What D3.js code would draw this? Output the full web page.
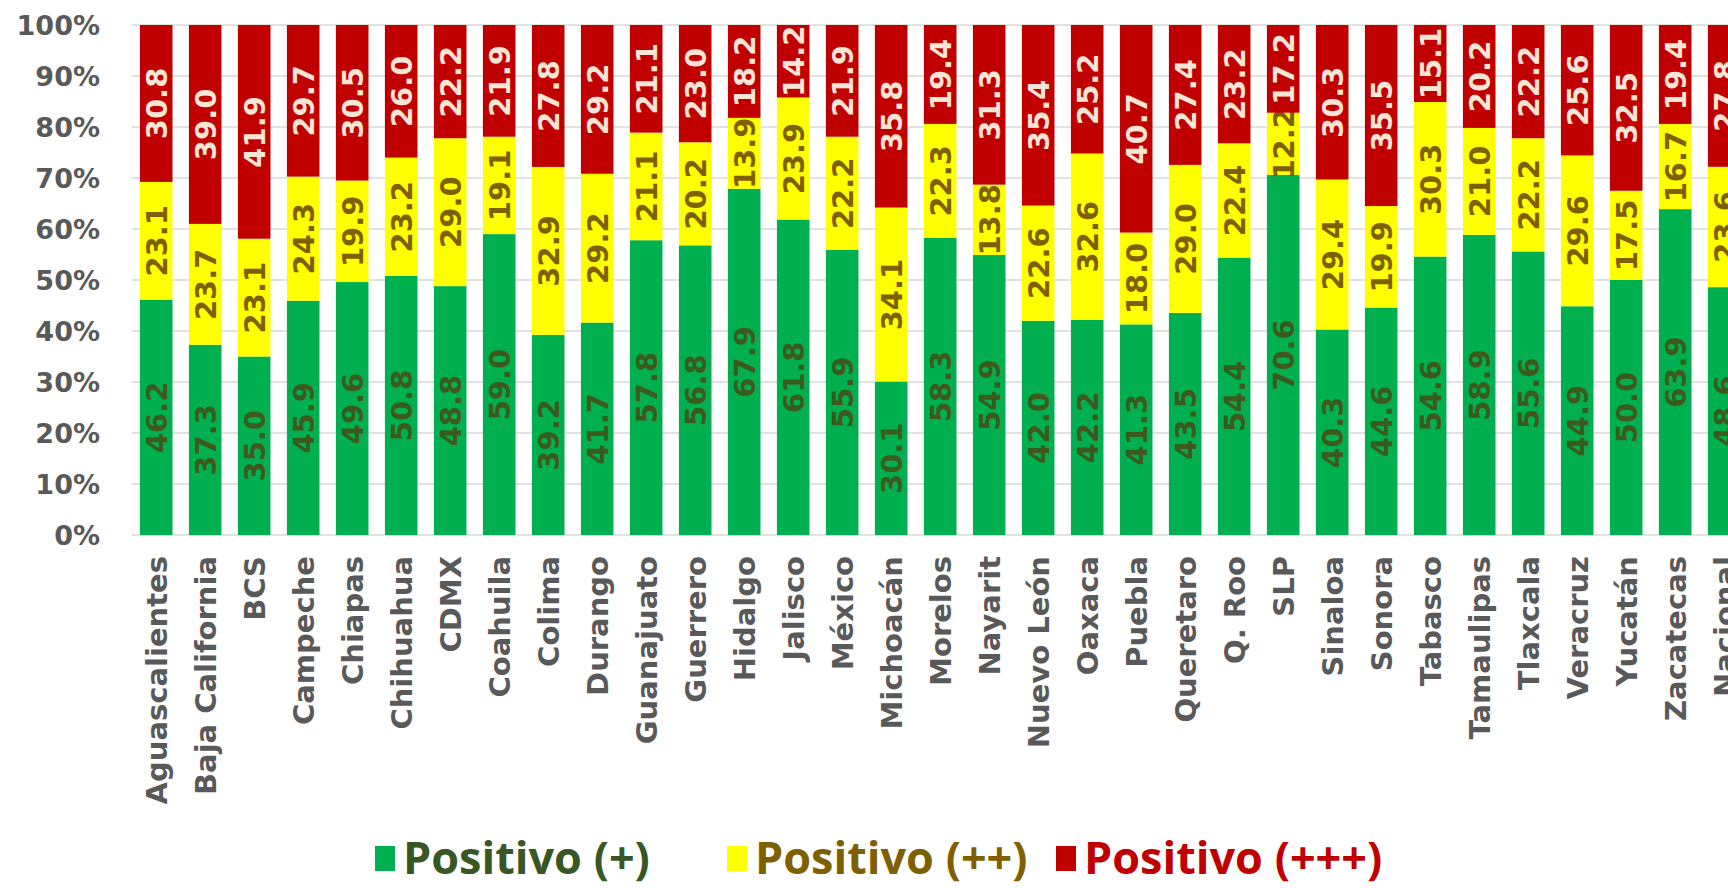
<!DOCTYPE html>
<meta charset="utf-8">
<style>
body { margin: 0; background: #fff; }
svg { display: block; }
.tick-label, .cat-label { font-family: "DejaVu Sans", sans-serif; font-weight: bold; fill: #595959; }
.val-label { font-family: "DejaVu Sans", sans-serif; font-weight: bold; }
.legend text { font-family: "Open Sans", sans-serif; font-weight: 700; }
</style>
<body>
<script src="https://cdnjs.cloudflare.com/ajax/libs/d3/7.8.5/d3.min.js"></script>
<script>

var estados = ["Aguascalientes", "Baja California", "BCS", "Campeche", "Chiapas", "Chihuahua",
    "CDMX", "Coahuila", "Colima", "Durango", "Guanajuato", "Guerrero", "Hidalgo", "Jalisco",
    "México", "Michoacán", "Morelos", "Nayarit", "Nuevo León", "Oaxaca", "Puebla", "Queretaro",
    "Q. Roo", "SLP", "Sinaloa", "Sonora", "Tabasco", "Tamaulipas", "Tlaxcala", "Veracruz",
    "Yucatán", "Zacatecas", "Nacional"];

var positivo1 = [46.2, 37.3, 35.0, 45.9, 49.6, 50.8, 48.8, 59.0, 39.2, 41.7, 57.8, 56.8, 67.9,
    61.8, 55.9, 30.1, 58.3, 54.9, 42.0, 42.2, 41.3, 43.5, 54.4, 70.6, 40.3, 44.6, 54.6, 58.9,
    55.6, 44.9, 50.0, 63.9, 48.6];
var positivo2 = [23.1, 23.7, 23.1, 24.3, 19.9, 23.2, 29.0, 19.1, 32.9, 29.2, 21.1, 20.2, 13.9,
    23.9, 22.2, 34.1, 22.3, 13.8, 22.6, 32.6, 18.0, 29.0, 22.4, 12.2, 29.4, 19.9, 30.3, 21.0,
    22.2, 29.6, 17.5, 16.7, 23.6];
var positivo3 = [30.8, 39.0, 41.9, 29.7, 30.5, 26.0, 22.2, 21.9, 27.8, 29.2, 21.1, 23.0, 18.2,
    14.2, 21.9, 35.8, 19.4, 31.3, 35.4, 25.2, 40.7, 27.4, 23.2, 17.2, 30.3, 35.5, 15.1, 20.2,
    22.2, 25.6, 32.5, 19.4, 27.8];

var series = ["Positivo (+)", "Positivo (++)", "Positivo (+++)"];
var yTicks = [0, 0.1, 0.2, 0.3, 0.4, 0.5, 0.6, 0.7, 0.8, 0.9, 1];

var barColors = ["#00b050", "#ffff00", "#c00000"];
var valColors = ["#3d5a1e", "#7f6000", "#fbe5d6"];
var legendText = ["#385723", "#7f6000", "#c00000"];

var width = 1728, height = 888;

var svg = d3.select("body").append("svg")
    .attr("width", width)
    .attr("height", height);

var rows = estados.map(function(e, i) {
    return {estado: e, p1: positivo1[i], p2: positivo2[i], p3: positivo3[i]};
});

// 100% apilado, como en Excel
var stacked = d3.stack()
    .keys(["p1", "p2", "p3"])
    .offset(d3.stackOffsetExpand)(rows);

// la ultima barra queda cortada por el borde
var x = d3.scaleBand()
    .domain(estados)
    .range([131.7, 1748.7])
    .paddingInner(0.335)
    .paddingOuter(0.1675);

var y = d3.scaleLinear()
    .domain([0, 1])
    .range([535, 25]);

// rejilla
svg.append("g")
    .selectAll("line")
    .data(yTicks)
  .enter().append("line")
    .attr("x1", x.range()[0])
    .attr("x2", width)
    .attr("y1", function(d) { return y(d); })
    .attr("y2", function(d) { return y(d); })
    .attr("stroke", "#d9d9d9")
    .attr("stroke-width", 1.6);

var yAxis = d3.axisLeft(y)
    .tickValues(yTicks)
    .tickFormat(d3.format(".0%"))
    .tickSize(0)
    .tickPadding(0);

svg.append("g")
    .attr("transform", "translate(100,0)")
    .call(yAxis)
    .call(function(g) { g.select(".domain").remove(); })
    .selectAll("text")
    .attr("class", "tick-label")
    .attr("font-size", 27)
    .attr("dy", "0.36em");

var layer = svg.append("g")
    .selectAll("g")
    .data(stacked)
  .enter().append("g")
    .attr("fill", function(d, i) { return barColors[i]; });

layer.selectAll("rect")
    .data(function(d) { return d; })
  .enter().append("rect")
    .attr("x", function(d) { return x(d.data.estado); })
    .attr("y", function(d) { return y(d[1]); })
    .attr("height", function(d) { return y(d[0]) - y(d[1]); })
    .attr("width", x.bandwidth());

// etiquetas de valor, giradas
var fmt = d3.format(".1f");
var cols = [positivo1, positivo2, positivo3];

layer.each(function(s, k) {
    d3.select(this).selectAll("text")
        .data(s)
      .enter().append("text")
        .attr("class", "val-label")
        .attr("font-size", 29)
        .attr("fill", valColors[k])
        .attr("text-anchor", "middle")
        .attr("dy", "0.36em")
        .attr("transform", function(d) {
            var cx = x(d.data.estado) + x.bandwidth() / 2;
            var cy = y((d[0] + d[1]) / 2);
            return "translate(" + cx + "," + cy + ") rotate(-90)";
        })
        .text(function(d, i) { return fmt(cols[k][i]); });
});

// nombres de estados
svg.append("g")
    .selectAll("text")
    .data(estados)
  .enter().append("text")
    .attr("class", "cat-label")
    .attr("font-size", 29)
    .attr("text-anchor", "end")
    .attr("dy", "0.36em")
    .attr("transform", function(d) {
        return "translate(" + (x(d) + x.bandwidth() / 2) + ",556) rotate(-90)";
    })
    .text(function(d) { return d; });

// leyenda
var legendX = [375, 727, 1056];

var legend = svg.append("g")
    .attr("class", "legend")
    .selectAll("g")
    .data(series)
  .enter().append("g")
    .attr("transform", function(d, i) { return "translate(" + legendX[i] + ",846)"; });

legend.append("rect")
    .attr("width", 20)
    .attr("height", 25)
    .attr("fill", function(d, i) { return barColors[i]; });

legend.append("text")
    .attr("x", 28)
    .attr("y", 12)
    .attr("dy", "0.36em")
    .attr("font-size", 45)
    .attr("fill", function(d, i) { return legendText[i]; })
    .text(function(d) { return d; });

</script>
